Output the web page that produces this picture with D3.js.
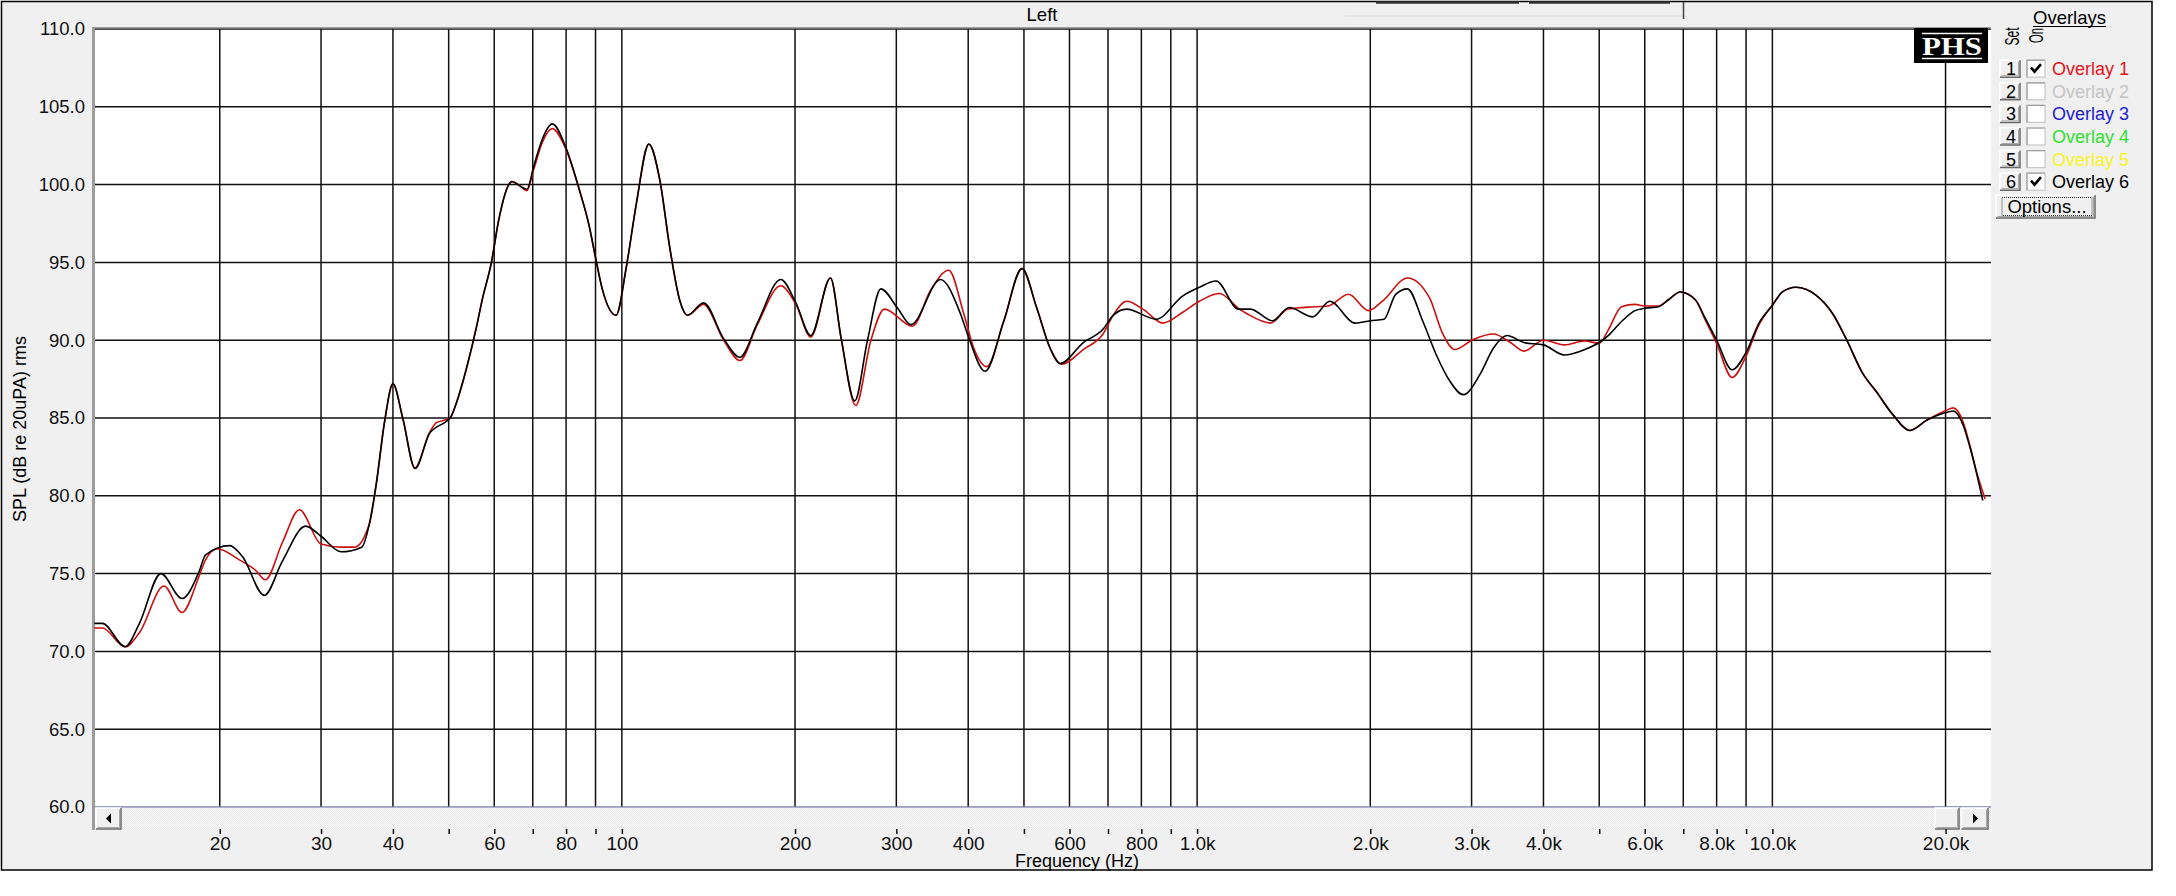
<!DOCTYPE html>
<html>
<head>
<meta charset="utf-8">
<script src="https://cdn.jsdelivr.net/npm/d3@7/dist/d3.min.js"></script>
<style>
  html, body { margin: 0; padding: 0; background: #ffffff; }
  svg { display: block; }
</style>
</head>
<body>
<div id="chart"></div>
<script>
// Overlay 1 (red) - frequency in Hz and SPL in dB
const overlay1Freq = [12.1, 12.5, 13.7, 14.5, 16.0, 17.2, 18.4, 18.9, 19.8, 21.6, 23.1, 24.0, 25.7, 27.5, 30.0, 32.5, 34.3,
  36.4, 37.4, 38.7, 40.0, 41.6, 43.7, 46.3, 47.6, 49.6, 50.3, 51.6, 53.7, 56.0, 57.1, 59.4, 61.0, 63.6, 64.4, 66.6, 68.4,
  70.3, 72.7, 75.7, 79.9, 84.3, 87.8, 89.9, 92.6, 97.7, 101.8, 106, 111.4, 116.4, 121.2, 126.2, 130, 138.7, 150.3, 160.4,
  172, 188.9, 200.7, 213, 230.5, 240.6, 255, 271, 286, 320, 344, 370, 393, 409, 431, 461, 496, 526, 555, 582, 634, 686,
  714.5, 754, 805, 872, 944.5, 1009, 1093, 1184, 1221, 1342, 1439, 1600, 1689, 1833, 1987, 2098, 2321, 2533, 2674, 2802,
  3020, 3275, 3504, 3698, 4000, 4349, 4717, 5000, 5184, 5467, 5769, 6000, 6339, 6598, 6915, 7345, 7645, 8000, 8514, 8982,
  9478, 10000, 10411, 10985, 11904, 12731, 13430, 14365, 15155, 16208, 17337, 18535, 19817, 20630, 21478, 22060, 22660, 23434];
const overlay1Spl = [71.5, 71.5, 70.3, 71.2, 74.2, 72.5, 74.8, 75.9, 76.6, 75.9, 75.2, 74.6, 77.0, 79.1, 76.9, 76.7, 76.7,
  78.2, 80.7, 84.8, 87.2, 85.0, 81.8, 84.05, 84.7, 84.9, 85.0, 86.0, 88.2, 91.0, 92.5, 95.1, 97.6, 100.0, 100.2, 99.9, 99.6,
  101.0, 102.7, 103.6, 102.3, 99.7, 97.3, 95.4, 93.2, 91.6, 94.7, 98.8, 102.6, 100.3, 95.9, 92.5, 91.6, 92.3, 90.0, 88.7,
  91.0, 93.5, 92.3, 90.2, 94.0, 90.1, 85.8, 90.0, 92.0, 90.9, 93.2, 94.5, 91.7, 89.5, 88.3, 91.2, 94.6, 92.1, 89.5, 88.45, 89.4, 90.4,
  91.6, 92.5, 92.0, 91.1, 91.8, 92.5, 93.0, 92.0, 91.7, 91.1, 92.0, 92.15, 92.2, 92.95, 91.9, 92.5, 94.0, 92.75, 90.4, 89.4,
  90.05, 90.4, 89.85, 89.3, 90.0, 89.7, 89.95, 89.8, 90.65, 92.15, 92.3, 92.2, 92.2, 92.6, 93.1, 92.6, 91.3, 89.8, 87.6, 88.9,
  91.0, 92.25, 93.1, 93.4, 92.9, 91.7, 90.1, 87.85, 86.7, 85.2, 84.2, 84.85, 85.4, 85.65, 84.7, 83.2, 81.5, 79.8];

// Overlay 6 (black)
const overlay6Freq = [12.1, 12.5, 13.7, 14.5, 15.8, 17.2, 18.4, 18.9, 20.8, 21.9, 23.9, 25.7, 28.2, 30.0, 32.5, 35.3,
  36.4, 37.4, 38.7, 40.0, 41.6, 43.7, 46.3, 49.6, 50.3, 51.6, 53.7, 56.0, 57.1, 59.4, 61.0, 63.6, 64.4, 66.6, 68.4,
  70.3, 72.7, 75.7, 79.9, 84.3, 87.8, 89.9, 92.6, 97.7, 101.8, 106, 111.4, 116.4, 121.2, 126.2, 130, 138.7, 150.3, 160.4,
  172, 188.9, 200.7, 213, 230.5, 240.6, 254, 267.3, 282, 301, 318, 358, 387.8, 400.6, 428, 461, 496, 526, 555, 578, 634, 686,
  714.5, 754, 849, 944.5, 1009, 1079, 1180, 1238, 1352, 1446, 1589, 1701, 1882, 2000, 2113, 2214, 2321, 2466, 2602, 2747,
  2902, 3103, 3275, 3458, 3698, 4000, 4349, 4717, 5000, 5184, 5467, 5769, 6000, 6339, 6598, 6915, 7345, 7645, 8000, 8514,
  8982, 9478, 10000, 10411, 10985, 11904, 12731, 13430, 14365, 15155, 16208, 17337, 18535, 19817, 20630, 21478, 22060, 22660, 23212];
const overlay6Spl = [71.8, 71.8, 70.3, 71.8, 75.0, 73.4, 75.1, 76.2, 76.8, 76.1, 73.6, 75.8, 78.05, 77.4, 76.4, 76.7,
  78.2, 80.7, 84.8, 87.2, 85.0, 81.75, 84.0, 84.8, 85.0, 86.0, 88.2, 91.0, 92.5, 95.1, 97.6, 100.0, 100.2, 99.9, 99.7,
  101.2, 102.9, 103.9, 102.4, 99.7, 97.3, 95.4, 93.2, 91.6, 94.7, 98.8, 102.6, 100.3, 95.9, 92.5, 91.6, 92.4, 90.1, 88.9,
  91.1, 93.9, 92.4, 90.3, 94.0, 90.1, 86.1, 90.0, 93.3, 92.1, 91.0, 93.9, 91.7, 90.2, 88.0, 91.2, 94.6, 92.1, 89.5, 88.5, 89.85, 90.7,
  91.6, 92.0, 91.35, 92.85, 93.4, 93.8, 92.0, 92.0, 91.25, 92.1, 91.5, 92.5, 91.1, 91.25, 91.35, 92.95, 93.3, 91.25, 89.1, 87.4,
  86.5, 87.8, 89.5, 90.3, 89.85, 89.7, 89.05, 89.4, 89.85, 90.3, 91.2, 91.9, 92.05, 92.15, 92.6, 93.1, 92.6, 91.4, 90.0, 88.1,
  89.15, 91.1, 92.25, 93.1, 93.4, 92.9, 91.7, 90.1, 87.85, 86.7, 85.2, 84.2, 84.85, 85.3, 85.45, 84.5, 83.1, 81.4, 79.7];

const yTicks = [60, 65, 70, 75, 80, 85, 90, 95, 100, 105, 110];
const gridFreqs = [20, 30, 40, 50, 60, 70, 80, 90, 100, 200, 300, 400, 500, 600, 700, 800, 900,
  1000, 2000, 3000, 4000, 5000, 6000, 7000, 8000, 9000, 10000, 20000];
const labelFreqs = [20, 30, 40, 60, 80, 100, 200, 300, 400, 600, 800,
  1000, 2000, 3000, 4000, 6000, 8000, 10000, 20000];

const overlayNames = ["Overlay 1", "Overlay 2", "Overlay 3", "Overlay 4", "Overlay 5", "Overlay 6"];
const overlayColors = ["#e3141c", "#c4c4c4", "#1c1cd0", "#2fe02f", "#f6f626", "#000000"];
const overlayOn = [true, false, false, false, false, true];

function drawChart() {
  const width = 2176;
  const height = 896;
  const font = '"Liberation Sans", Arial, sans-serif';

  const svg = d3.select("#chart")
    .append("svg")
    .attr("width", width)
    .attr("height", height)
    .attr("viewBox", [0, 0, width, height]);

  const defs = svg.append("defs");
  const dither = defs.append("pattern")
    .attr("id", "dither")
    .attr("width", 2)
    .attr("height", 2)
    .attr("patternUnits", "userSpaceOnUse");
  dither.append("rect").attr("width", 2).attr("height", 2).attr("fill", "#ffffff");
  dither.append("rect").attr("width", 1).attr("height", 1).attr("fill", "#e4e4e4");
  dither.append("rect").attr("x", 1).attr("y", 1).attr("width", 1).attr("height", 1).attr("fill", "#e4e4e4");

  // window panel
  svg.append("rect")
    .attr("x", 1.5).attr("y", 1.5)
    .attr("width", 2150.5).attr("height", 868.5)
    .attr("fill", "#f0f0f0")
    .attr("stroke", "#000")
    .attr("stroke-width", 1.5);

  const plot = { left: 94, right: 1991, top: 29, bottom: 807 };

  const x = d3.scaleLog()
    .domain([12.09, 23990])
    .range([plot.left, plot.right]);

  const y = d3.scaleLinear()
    .domain([60, 110])
    .range([plot.bottom, plot.top]);

  svg.append("rect")
    .attr("x", plot.left).attr("y", plot.top)
    .attr("width", plot.right - plot.left)
    .attr("height", plot.bottom - plot.top)
    .attr("fill", "#ffffff");

  // top strip bits
  svg.append("text")
    .attr("x", 1042).attr("y", 20.5)
    .attr("text-anchor", "middle")
    .attr("font-family", font)
    .attr("font-size", 18.5)
    .attr("fill", "#000")
    .text("Left");

  svg.append("line")
    .attr("x1", 1345).attr("x2", 1683).attr("y1", 16).attr("y2", 16)
    .attr("stroke", "#dcdcdc").attr("stroke-width", 1);
  [[1376, 1519], [1529, 1670]].forEach(function(seg) {
    svg.append("line")
      .attr("x1", seg[0]).attr("x2", seg[1]).attr("y1", 2.5).attr("y2", 2.5)
      .attr("stroke", "#333").attr("stroke-width", 2.5);
  });
  svg.append("line")
    .attr("x1", 1683.5).attr("x2", 1683.5).attr("y1", 2).attr("y2", 19)
    .attr("stroke", "#444").attr("stroke-width", 1.5);

  // grid
  const grid = svg.append("g");

  grid.selectAll("line.v")
    .data(gridFreqs)
    .join("line")
    .attr("class", "v")
    .attr("x1", function(d) { return x(d); })
    .attr("x2", function(d) { return x(d); })
    .attr("y1", plot.top)
    .attr("y2", plot.bottom)
    .attr("stroke", "#111")
    .attr("stroke-width", 1.5);

  grid.selectAll("line.h")
    .data(yTicks)
    .join("line")
    .attr("class", "h")
    .attr("x1", plot.left)
    .attr("x2", plot.right)
    .attr("y1", function(d) { return y(d); })
    .attr("y2", function(d) { return y(d); })
    .attr("stroke", function(d) { return d === 60 ? "#7d7dab" : "#111"; })
    .attr("stroke-width", 1.5);

  // plot frame shading
  svg.append("line")
    .attr("x1", plot.left - 1).attr("x2", plot.right)
    .attr("y1", plot.top - 1.2).attr("y2", plot.top - 1.2)
    .attr("stroke", "#9c9c9c").attr("stroke-width", 1.5);

  // scrollbar under the plot
  const sb = svg.append("g");
  sb.append("rect")
    .attr("x", plot.left).attr("y", plot.bottom + 0.75)
    .attr("width", plot.right - plot.left).attr("height", 22.5)
    .attr("fill", "url(#dither)");

  function raisedButton(g, x0, y0, w, h) {
    g.append("rect").attr("x", x0).attr("y", y0).attr("width", w).attr("height", h).attr("fill", "#f0f0f0");
    g.append("path")
      .attr("d", "M" + x0 + "," + (y0 + h) + "V" + y0 + "H" + (x0 + w))
      .attr("fill", "none").attr("stroke", "#ffffff").attr("stroke-width", 1.5);
    g.append("path")
      .attr("d", "M" + (x0 + w) + "," + y0 + "V" + (y0 + h) + "H" + x0)
      .attr("fill", "none").attr("stroke", "#6a6a6a").attr("stroke-width", 1.5);
    g.append("path")
      .attr("d", "M" + (x0 + w - 1.5) + "," + (y0 + 1.5) + "V" + (y0 + h - 1.5) + "H" + (x0 + 1.5))
      .attr("fill", "none").attr("stroke", "#a8a8a8").attr("stroke-width", 1);
  }

  raisedButton(sb, 96, 808, 25, 21);
  sb.append("path").attr("d", "M106,818.5 L111,813.5 L111,823.5 Z").attr("fill", "#000");
  raisedButton(sb, 1935, 808, 24, 21);
  raisedButton(sb, 1961.5, 808, 26.5, 21);
  sb.append("path").attr("d", "M1978,818.5 L1973,813.5 L1973,823.5 Z").attr("fill", "#000");

  // left axis bar
  svg.append("line")
    .attr("x1", 93.5).attr("x2", 93.5)
    .attr("y1", plot.top - 2).attr("y2", 830)
    .attr("stroke", "#9c9c9c").attr("stroke-width", 3);

  // y axis labels
  const yAxis = d3.axisLeft(y)
    .tickValues(yTicks)
    .tickSize(0)
    .tickPadding(8)
    .tickFormat(d3.format(".1f"));

  const yg = svg.append("g")
    .attr("transform", "translate(" + (plot.left - 1) + ",0)")
    .call(yAxis);
  yg.select(".domain").remove();
  yg.selectAll("text")
    .attr("font-family", font)
    .attr("font-size", 18.5)
    .attr("fill", "#111");

  svg.append("text")
    .attr("transform", "translate(25.5,429) rotate(-90)")
    .attr("text-anchor", "middle")
    .attr("font-family", font)
    .attr("font-size", 18)
    .attr("fill", "#000")
    .text("SPL (dB re 20uPA) rms");

  // x axis ticks and labels
  const xAxis = d3.axisBottom(x)
    .tickValues(gridFreqs)
    .tickSize(5)
    .tickPadding(3)
    .tickFormat(function(d) {
      if (labelFreqs.indexOf(d) < 0) {
        return "";
      }
      return d >= 1000 ? (d / 1000).toFixed(1) + "k" : String(d);
    });

  const xg = svg.append("g")
    .attr("transform", "translate(0,829)")
    .call(xAxis);
  xg.select(".domain").remove();
  xg.selectAll("line").attr("stroke", "#111").attr("stroke-width", 1.5);
  xg.selectAll("text")
    .attr("font-family", font)
    .attr("font-size", 19)
    .attr("fill", "#111");

  svg.append("text")
    .attr("x", 1077).attr("y", 866.5)
    .attr("text-anchor", "middle")
    .attr("font-family", font)
    .attr("font-size", 18)
    .attr("fill", "#000")
    .text("Frequency (Hz)");

  // curves, red first so the black trace sits on top
  const line = d3.line()
    .x(function(d) { return x(d[0]); })
    .y(function(d) { return y(d[1]); })
    .curve(d3.curveMonotoneX);

  const series = [
    { freq: overlay1Freq, spl: overlay1Spl, color: "#cc1010" },
    { freq: overlay6Freq, spl: overlay6Spl, color: "#000000" }
  ];

  svg.append("g")
    .selectAll("path")
    .data(series)
    .join("path")
    .attr("fill", "none")
    .attr("stroke", function(d) { return d.color; })
    .attr("stroke-width", 1.6)
    .attr("stroke-linejoin", "round")
    .attr("d", function(d) {
      return line(d.freq.map(function(f, i) { return [f, d.spl[i]]; }));
    });

  // PHS badge
  svg.append("rect")
    .attr("x", 1914).attr("y", 28).attr("width", 74).attr("height", 35)
    .attr("fill", "#000");
  [33.5, 58.5].forEach(function(yy) {
    svg.append("line")
      .attr("x1", 1922).attr("x2", 1982).attr("y1", yy).attr("y2", yy)
      .attr("stroke", "#fff").attr("stroke-width", 1.5);
  });
  svg.append("text")
    .attr("x", 1922).attr("y", 55)
    .attr("font-family", '"Liberation Serif", "Times New Roman", serif')
    .attr("font-weight", "bold")
    .attr("font-size", 25)
    .attr("textLength", 60)
    .attr("lengthAdjust", "spacingAndGlyphs")
    .attr("fill", "#fff")
    .text("PHS");

  // overlay panel
  const legend = svg.append("g");

  legend.append("text")
    .attr("x", 2069.5).attr("y", 24)
    .attr("text-anchor", "middle")
    .attr("font-family", font)
    .attr("font-size", 18.5)
    .attr("fill", "#000")
    .text("Overlays");
  legend.append("line")
    .attr("x1", 2033).attr("x2", 2106).attr("y1", 26.5).attr("y2", 26.5)
    .attr("stroke", "#000").attr("stroke-width", 1.2);

  // column headers are squeezed along their length, so anchor at the start
  legend.append("text")
    .attr("transform", "translate(2018.5,45.5) rotate(-90)")
    .attr("font-family", font)
    .attr("font-size", 19.5)
    .attr("textLength", 18)
    .attr("lengthAdjust", "spacingAndGlyphs")
    .attr("fill", "#000")
    .text("Set");
  legend.append("text")
    .attr("transform", "translate(2043,43) rotate(-90)")
    .attr("font-family", font)
    .attr("font-size", 19.5)
    .attr("textLength", 15)
    .attr("lengthAdjust", "spacingAndGlyphs")
    .attr("fill", "#000")
    .text("On");

  overlayNames.forEach(function(name, i) {
    const cy = 68.7 + i * 22.6;
    const row = legend.append("g");

    raisedButton(row, 2000, cy - 8.5, 20, 17);
    row.append("text")
      .attr("x", 2011).attr("y", cy + 6.5)
      .attr("text-anchor", "middle")
      .attr("font-family", font)
      .attr("font-size", 18)
      .attr("fill", "#000")
      .text(String(i + 1));

    row.append("rect")
      .attr("x", 2027).attr("y", cy - 8.5).attr("width", 18).attr("height", 17)
      .attr("fill", "#ffffff")
      .attr("stroke", "#c8c8c8")
      .attr("stroke-width", 1.2);
    row.append("path")
      .attr("d", "M" + 2027 + "," + (cy + 8.5) + "V" + (cy - 8.5) + "H" + 2045)
      .attr("fill", "none").attr("stroke", "#a0a0a0").attr("stroke-width", 1.2);

    if (overlayOn[i]) {
      row.append("path")
        .attr("d", "M" + 2031 + "," + (cy - 1) + "L" + 2034.5 + "," + (cy + 3) + "L" + 2041 + "," + (cy - 4.5))
        .attr("fill", "none")
        .attr("stroke", "#000")
        .attr("stroke-width", 2.6);
    }

    row.append("text")
      .attr("x", 2052).attr("y", cy + 6.5)
      .attr("font-family", font)
      .attr("font-size", 18)
      .attr("fill", overlayColors[i])
      .text(name);
  });

  raisedButton(legend, 1996, 195, 99, 23);
  legend.append("rect")
    .attr("x", 2002).attr("y", 197.5).attr("width", 90).attr("height", 18)
    .attr("fill", "none")
    .attr("stroke", "#333")
    .attr("stroke-width", 1)
    .attr("stroke-dasharray", "1,1");
  legend.append("text")
    .attr("x", 2047).attr("y", 213)
    .attr("text-anchor", "middle")
    .attr("font-family", font)
    .attr("font-size", 18.5)
    .attr("fill", "#000")
    .text("Options...");
}

if (document.readyState === "loading") {
  document.addEventListener("DOMContentLoaded", drawChart);
} else {
  drawChart();
}
</script>
</body>
</html>
